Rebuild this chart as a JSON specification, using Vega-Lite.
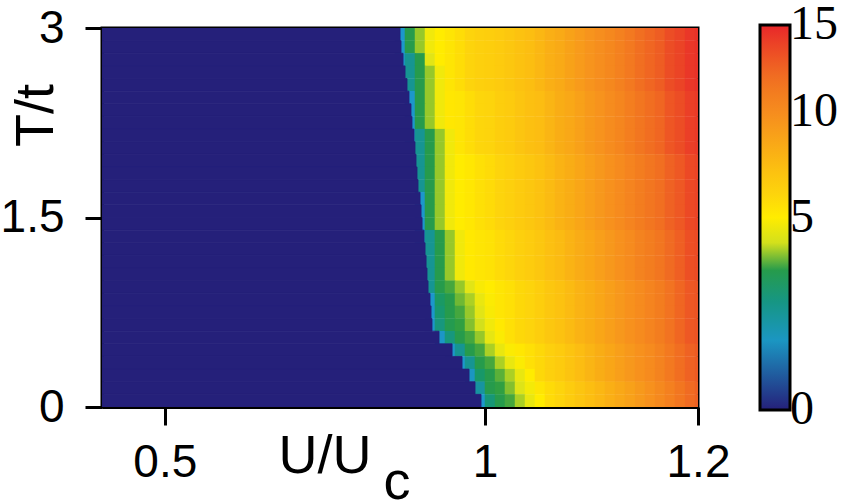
{
"$schema":"https://vega.github.io/schema/vega-lite/v6.json",
"width":596,"height":379,
"autosize":{"type":"none"},
"padding":{"left":102,"top":28,"right":145,"bottom":93},
"background":"white",
"config":{
"view":{"stroke":"black","strokeWidth":3},
"axis":{"grid":false,"domainColor":"black","domainWidth":3,"tickColor":"black","tickWidth":3,"labelColor":"black","titleColor":"black","labelFont":"Liberation Sans","titleFont":"Liberation Sans","labelFontSize":46,"titleFontSize":54,"titleFontWeight":"normal","zindex":1}
},
"datasets":{
"dark":[
{"u0":0.25,"u1":0.903,"t0":2.9,"t1":3,"v":0},{"u0":0.25,"u1":0.9042,"t0":2.8,"t1":2.9,"v":0},{"u0":0.25,"u1":0.9067,"t0":2.7,"t1":2.8,"v":0},{"u0":0.25,"u1":0.9091,"t0":2.6,"t1":2.7,"v":0},{"u0":0.25,"u1":0.9115,"t0":2.5,"t1":2.6,"v":0},{"u0":0.25,"u1":0.9139,"t0":2.4,"t1":2.5,"v":0},{"u0":0.25,"u1":0.9163,"t0":2.3,"t1":2.4,"v":0},{"u0":0.25,"u1":0.9175,"t0":2.2,"t1":2.3,"v":0},{"u0":0.25,"u1":0.9199,"t0":2.1,"t1":2.2,"v":0},{"u0":0.25,"u1":0.9211,"t0":2.0,"t1":2.1,"v":0},
{"u0":0.25,"u1":0.9223,"t0":1.9,"t1":2.0,"v":0},{"u0":0.25,"u1":0.9235,"t0":1.8,"t1":1.9,"v":0},{"u0":0.25,"u1":0.9247,"t0":1.7,"t1":1.8,"v":0},{"u0":0.25,"u1":0.9271,"t0":1.6,"t1":1.7,"v":0},{"u0":0.25,"u1":0.9283,"t0":1.5,"t1":1.6,"v":0},{"u0":0.25,"u1":0.9295,"t0":1.4,"t1":1.5,"v":0},{"u0":0.25,"u1":0.9318,"t0":1.3,"t1":1.4,"v":0},{"u0":0.25,"u1":0.933,"t0":1.2,"t1":1.3,"v":0},{"u0":0.25,"u1":0.9342,"t0":1.1,"t1":1.2,"v":0},{"u0":0.25,"u1":0.9353,"t0":1.0,"t1":1.1,"v":0},
{"u0":0.25,"u1":0.9365,"t0":0.9,"t1":1.0,"v":0},{"u0":0.25,"u1":0.9388,"t0":0.8,"t1":0.9,"v":0},{"u0":0.25,"u1":0.94,"t0":0.7,"t1":0.8,"v":0},{"u0":0.25,"u1":0.9411,"t0":0.6,"t1":0.7,"v":0},{"u0":0.25,"u1":0.9492,"t0":0.5,"t1":0.6,"v":0},{"u0":0.25,"u1":0.964,"t0":0.4,"t1":0.5,"v":0},{"u0":0.25,"u1":0.9751,"t0":0.3,"t1":0.4,"v":0},{"u0":0.25,"u1":0.9828,"t0":0.2,"t1":0.3,"v":0},{"u0":0.25,"u1":0.9893,"t0":0.1,"t1":0.2,"v":0},{"u0":0.25,"u1":0.9958,"t0":0,"t1":0.1,"v":0}
],
"cells":[
{"t":2.95,"u":0.903,"v":0.8},{"t":2.95,"u":0.9151,"v":3},{"t":2.95,"u":0.9271,"v":3.7},{"t":2.95,"u":0.9388,"v":4.6},{"t":2.95,"u":0.9503,"v":5},{"t":2.95,"u":0.9617,"v":5.3},{"t":2.95,"u":0.9729,"v":5.6},{"t":2.95,"u":0.9839,"v":6},{"t":2.95,"u":0.9947,"v":6.2},{"t":2.95,"u":1.0054,"v":6.3},{"t":2.95,"u":1.016,"v":6.5},{"t":2.95,"u":1.0263,"v":6.7},{"t":2.95,"u":1.0366,"v":7},{"t":2.95,"u":1.0467,"v":7.2},{"t":2.95,"u":1.0566,"v":7.6},{"t":2.95,"u":1.0665,"v":8},{"t":2.95,"u":1.0763,"v":8.3},{"t":2.95,"u":1.0859,"v":8.7},{"t":2.95,"u":1.0954,"v":9.1},{"t":2.95,"u":1.1048,"v":9.5},{"t":2.95,"u":1.1141,"v":9.9},{"t":2.95,"u":1.1233,"v":10.3},{"t":2.95,"u":1.1324,"v":10.7},{"t":2.95,"u":1.1413,"v":11.2},{"t":2.95,"u":1.1503,"v":11.8},{"t":2.95,"u":1.159,"v":12.3},{"t":2.95,"u":1.1678,"v":12.7},{"t":2.95,"u":1.1763,"v":13.4},{"t":2.95,"u":1.1848,"v":13.8},{"t":2.95,"u":1.1934,"v":14.3},{"t":2.95,"u":1.2017,"v":14.5},
{"t":2.85,"u":0.903,"v":0.8},{"t":2.85,"u":0.9151,"v":3},{"t":2.85,"u":0.9271,"v":3.7},{"t":2.85,"u":0.9388,"v":4.6},{"t":2.85,"u":0.9503,"v":5},{"t":2.85,"u":0.9617,"v":5.3},{"t":2.85,"u":0.9729,"v":5.6},{"t":2.85,"u":0.9839,"v":6},{"t":2.85,"u":0.9947,"v":6.2},{"t":2.85,"u":1.0054,"v":6.3},{"t":2.85,"u":1.016,"v":6.5},{"t":2.85,"u":1.0263,"v":6.7},{"t":2.85,"u":1.0366,"v":7},{"t":2.85,"u":1.0467,"v":7.2},{"t":2.85,"u":1.0566,"v":7.6},{"t":2.85,"u":1.0665,"v":8},{"t":2.85,"u":1.0763,"v":8.3},{"t":2.85,"u":1.0859,"v":8.7},{"t":2.85,"u":1.0954,"v":9.1},{"t":2.85,"u":1.1048,"v":9.5},{"t":2.85,"u":1.1141,"v":9.9},{"t":2.85,"u":1.1233,"v":10.3},{"t":2.85,"u":1.1324,"v":10.7},{"t":2.85,"u":1.1413,"v":11.2},{"t":2.85,"u":1.1503,"v":11.8},{"t":2.85,"u":1.159,"v":12.3},{"t":2.85,"u":1.1678,"v":12.7},{"t":2.85,"u":1.1763,"v":13.4},{"t":2.85,"u":1.1848,"v":13.8},{"t":2.85,"u":1.1934,"v":14.3},{"t":2.85,"u":1.2017,"v":14.5},
{"t":2.75,"u":0.903,"v":0.8},{"t":2.75,"u":0.9151,"v":1.8},{"t":2.75,"u":0.9271,"v":3},{"t":2.75,"u":0.9388,"v":4.2},{"t":2.75,"u":0.9503,"v":5},{"t":2.75,"u":0.9617,"v":5.3},{"t":2.75,"u":0.9729,"v":5.6},{"t":2.75,"u":0.9839,"v":6},{"t":2.75,"u":0.9947,"v":6.2},{"t":2.75,"u":1.0054,"v":6.3},{"t":2.75,"u":1.016,"v":6.5},{"t":2.75,"u":1.0263,"v":6.7},{"t":2.75,"u":1.0366,"v":7},{"t":2.75,"u":1.0467,"v":7.2},{"t":2.75,"u":1.0566,"v":7.6},{"t":2.75,"u":1.0665,"v":8},{"t":2.75,"u":1.0763,"v":8.3},{"t":2.75,"u":1.0859,"v":8.7},{"t":2.75,"u":1.0954,"v":9.1},{"t":2.75,"u":1.1048,"v":9.5},{"t":2.75,"u":1.1141,"v":9.9},{"t":2.75,"u":1.1233,"v":10.3},{"t":2.75,"u":1.1324,"v":10.7},{"t":2.75,"u":1.1413,"v":11.2},{"t":2.75,"u":1.1503,"v":11.8},{"t":2.75,"u":1.159,"v":12.3},{"t":2.75,"u":1.1678,"v":12.7},{"t":2.75,"u":1.1763,"v":13.4},{"t":2.75,"u":1.1848,"v":13.8},{"t":2.75,"u":1.1934,"v":14.3},{"t":2.75,"u":1.2017,"v":14.5},
{"t":2.65,"u":0.9151,"v":1.8},{"t":2.65,"u":0.9271,"v":3},{"t":2.65,"u":0.9388,"v":3.7},{"t":2.65,"u":0.9503,"v":4.6},{"t":2.65,"u":0.9617,"v":5.3},{"t":2.65,"u":0.9729,"v":5.6},{"t":2.65,"u":0.9839,"v":6},{"t":2.65,"u":0.9947,"v":6.2},{"t":2.65,"u":1.0054,"v":6.3},{"t":2.65,"u":1.016,"v":6.5},{"t":2.65,"u":1.0263,"v":6.7},{"t":2.65,"u":1.0366,"v":7},{"t":2.65,"u":1.0467,"v":7.2},{"t":2.65,"u":1.0566,"v":7.6},{"t":2.65,"u":1.0665,"v":8},{"t":2.65,"u":1.0763,"v":8.3},{"t":2.65,"u":1.0859,"v":8.7},{"t":2.65,"u":1.0954,"v":9.1},{"t":2.65,"u":1.1048,"v":9.5},{"t":2.65,"u":1.1141,"v":9.9},{"t":2.65,"u":1.1233,"v":10.3},{"t":2.65,"u":1.1324,"v":10.7},{"t":2.65,"u":1.1413,"v":11.2},{"t":2.65,"u":1.1503,"v":11.8},{"t":2.65,"u":1.159,"v":12.3},{"t":2.65,"u":1.1678,"v":12.7},{"t":2.65,"u":1.1763,"v":13.4},{"t":2.65,"u":1.1848,"v":13.8},{"t":2.65,"u":1.1934,"v":14.3},{"t":2.65,"u":1.2017,"v":14.5},
{"t":2.55,"u":0.9151,"v":1.8},{"t":2.55,"u":0.9271,"v":3},{"t":2.55,"u":0.9388,"v":3.7},{"t":2.55,"u":0.9503,"v":4.6},{"t":2.55,"u":0.9617,"v":5.3},{"t":2.55,"u":0.9729,"v":5.6},{"t":2.55,"u":0.9839,"v":6},{"t":2.55,"u":0.9947,"v":6.2},{"t":2.55,"u":1.0054,"v":6.3},{"t":2.55,"u":1.016,"v":6.5},{"t":2.55,"u":1.0263,"v":6.7},{"t":2.55,"u":1.0366,"v":7},{"t":2.55,"u":1.0467,"v":7.2},{"t":2.55,"u":1.0566,"v":7.6},{"t":2.55,"u":1.0665,"v":8},{"t":2.55,"u":1.0763,"v":8.3},{"t":2.55,"u":1.0859,"v":8.7},{"t":2.55,"u":1.0954,"v":9.1},{"t":2.55,"u":1.1048,"v":9.5},{"t":2.55,"u":1.1141,"v":9.9},{"t":2.55,"u":1.1233,"v":10.3},{"t":2.55,"u":1.1324,"v":10.7},{"t":2.55,"u":1.1413,"v":11.2},{"t":2.55,"u":1.1503,"v":11.8},{"t":2.55,"u":1.159,"v":12.3},{"t":2.55,"u":1.1678,"v":12.7},{"t":2.55,"u":1.1763,"v":13.4},{"t":2.55,"u":1.1848,"v":13.8},{"t":2.55,"u":1.1934,"v":14.3},{"t":2.55,"u":1.2017,"v":14.5},
{"t":2.45,"u":0.9151,"v":0.8},{"t":2.45,"u":0.9271,"v":3},{"t":2.45,"u":0.9388,"v":3.7},{"t":2.45,"u":0.9503,"v":4.6},{"t":2.45,"u":0.9617,"v":5.2},{"t":2.45,"u":0.9729,"v":5.3},{"t":2.45,"u":0.9839,"v":5.6},{"t":2.45,"u":0.9947,"v":5.9},{"t":2.45,"u":1.0054,"v":6},{"t":2.45,"u":1.016,"v":6.3},{"t":2.45,"u":1.0263,"v":6.5},{"t":2.45,"u":1.0366,"v":6.8},{"t":2.45,"u":1.0467,"v":7.1},{"t":2.45,"u":1.0566,"v":7.3},{"t":2.45,"u":1.0665,"v":7.7},{"t":2.45,"u":1.0763,"v":8.1},{"t":2.45,"u":1.0859,"v":8.4},{"t":2.45,"u":1.0954,"v":8.8},{"t":2.45,"u":1.1048,"v":9.2},{"t":2.45,"u":1.1141,"v":9.6},{"t":2.45,"u":1.1233,"v":10},{"t":2.45,"u":1.1324,"v":10.4},{"t":2.45,"u":1.1413,"v":10.9},{"t":2.45,"u":1.1503,"v":11.4},{"t":2.45,"u":1.159,"v":11.9},{"t":2.45,"u":1.1678,"v":12.3},{"t":2.45,"u":1.1763,"v":13},{"t":2.45,"u":1.1848,"v":13.4},{"t":2.45,"u":1.1934,"v":14},{"t":2.45,"u":1.2017,"v":14.2},
{"t":2.35,"u":0.9151,"v":0.8},{"t":2.35,"u":0.9271,"v":3},{"t":2.35,"u":0.9388,"v":3.7},{"t":2.35,"u":0.9503,"v":4.6},{"t":2.35,"u":0.9617,"v":5.2},{"t":2.35,"u":0.9729,"v":5.3},{"t":2.35,"u":0.9839,"v":5.6},{"t":2.35,"u":0.9947,"v":5.9},{"t":2.35,"u":1.0054,"v":6},{"t":2.35,"u":1.016,"v":6.3},{"t":2.35,"u":1.0263,"v":6.5},{"t":2.35,"u":1.0366,"v":6.8},{"t":2.35,"u":1.0467,"v":7.1},{"t":2.35,"u":1.0566,"v":7.3},{"t":2.35,"u":1.0665,"v":7.7},{"t":2.35,"u":1.0763,"v":8.1},{"t":2.35,"u":1.0859,"v":8.4},{"t":2.35,"u":1.0954,"v":8.8},{"t":2.35,"u":1.1048,"v":9.2},{"t":2.35,"u":1.1141,"v":9.6},{"t":2.35,"u":1.1233,"v":10},{"t":2.35,"u":1.1324,"v":10.4},{"t":2.35,"u":1.1413,"v":10.9},{"t":2.35,"u":1.1503,"v":11.4},{"t":2.35,"u":1.159,"v":11.9},{"t":2.35,"u":1.1678,"v":12.3},{"t":2.35,"u":1.1763,"v":13},{"t":2.35,"u":1.1848,"v":13.4},{"t":2.35,"u":1.1934,"v":14},{"t":2.35,"u":1.2017,"v":14.2},
{"t":2.25,"u":0.9151,"v":0.8},{"t":2.25,"u":0.9271,"v":3},{"t":2.25,"u":0.9388,"v":3.7},{"t":2.25,"u":0.9503,"v":4.6},{"t":2.25,"u":0.9617,"v":5.2},{"t":2.25,"u":0.9729,"v":5.3},{"t":2.25,"u":0.9839,"v":5.6},{"t":2.25,"u":0.9947,"v":5.9},{"t":2.25,"u":1.0054,"v":6},{"t":2.25,"u":1.016,"v":6.3},{"t":2.25,"u":1.0263,"v":6.5},{"t":2.25,"u":1.0366,"v":6.8},{"t":2.25,"u":1.0467,"v":7.1},{"t":2.25,"u":1.0566,"v":7.3},{"t":2.25,"u":1.0665,"v":7.7},{"t":2.25,"u":1.0763,"v":8.1},{"t":2.25,"u":1.0859,"v":8.4},{"t":2.25,"u":1.0954,"v":8.8},{"t":2.25,"u":1.1048,"v":9.2},{"t":2.25,"u":1.1141,"v":9.6},{"t":2.25,"u":1.1233,"v":10},{"t":2.25,"u":1.1324,"v":10.4},{"t":2.25,"u":1.1413,"v":10.9},{"t":2.25,"u":1.1503,"v":11.4},{"t":2.25,"u":1.159,"v":11.9},{"t":2.25,"u":1.1678,"v":12.3},{"t":2.25,"u":1.1763,"v":13},{"t":2.25,"u":1.1848,"v":13.4},{"t":2.25,"u":1.1934,"v":14},{"t":2.25,"u":1.2017,"v":14.2},
{"t":2.15,"u":0.9151,"v":0.8},{"t":2.15,"u":0.9271,"v":1.8},{"t":2.15,"u":0.9388,"v":3},{"t":2.15,"u":0.9503,"v":3.7},{"t":2.15,"u":0.9617,"v":4.6},{"t":2.15,"u":0.9729,"v":5.3},{"t":2.15,"u":0.9839,"v":5.6},{"t":2.15,"u":0.9947,"v":5.9},{"t":2.15,"u":1.0054,"v":6},{"t":2.15,"u":1.016,"v":6.3},{"t":2.15,"u":1.0263,"v":6.5},{"t":2.15,"u":1.0366,"v":6.8},{"t":2.15,"u":1.0467,"v":7.1},{"t":2.15,"u":1.0566,"v":7.3},{"t":2.15,"u":1.0665,"v":7.7},{"t":2.15,"u":1.0763,"v":8.1},{"t":2.15,"u":1.0859,"v":8.4},{"t":2.15,"u":1.0954,"v":8.8},{"t":2.15,"u":1.1048,"v":9.2},{"t":2.15,"u":1.1141,"v":9.6},{"t":2.15,"u":1.1233,"v":10},{"t":2.15,"u":1.1324,"v":10.4},{"t":2.15,"u":1.1413,"v":10.9},{"t":2.15,"u":1.1503,"v":11.4},{"t":2.15,"u":1.159,"v":11.9},{"t":2.15,"u":1.1678,"v":12.3},{"t":2.15,"u":1.1763,"v":13},{"t":2.15,"u":1.1848,"v":13.4},{"t":2.15,"u":1.1934,"v":14},{"t":2.15,"u":1.2017,"v":14.2},
{"t":2.05,"u":0.9271,"v":1.8},{"t":2.05,"u":0.9388,"v":3},{"t":2.05,"u":0.9503,"v":3.7},{"t":2.05,"u":0.9617,"v":4.6},{"t":2.05,"u":0.9729,"v":5.3},{"t":2.05,"u":0.9839,"v":5.6},{"t":2.05,"u":0.9947,"v":5.9},{"t":2.05,"u":1.0054,"v":6},{"t":2.05,"u":1.016,"v":6.3},{"t":2.05,"u":1.0263,"v":6.5},{"t":2.05,"u":1.0366,"v":6.8},{"t":2.05,"u":1.0467,"v":7.1},{"t":2.05,"u":1.0566,"v":7.3},{"t":2.05,"u":1.0665,"v":7.7},{"t":2.05,"u":1.0763,"v":8.1},{"t":2.05,"u":1.0859,"v":8.4},{"t":2.05,"u":1.0954,"v":8.8},{"t":2.05,"u":1.1048,"v":9.2},{"t":2.05,"u":1.1141,"v":9.6},{"t":2.05,"u":1.1233,"v":10},{"t":2.05,"u":1.1324,"v":10.4},{"t":2.05,"u":1.1413,"v":10.9},{"t":2.05,"u":1.1503,"v":11.4},{"t":2.05,"u":1.159,"v":11.9},{"t":2.05,"u":1.1678,"v":12.3},{"t":2.05,"u":1.1763,"v":13},{"t":2.05,"u":1.1848,"v":13.4},{"t":2.05,"u":1.1934,"v":14},{"t":2.05,"u":1.2017,"v":14.2},
{"t":1.95,"u":0.9271,"v":1.8},{"t":1.95,"u":0.9388,"v":3},{"t":1.95,"u":0.9503,"v":3.7},{"t":1.95,"u":0.9617,"v":4.6},{"t":1.95,"u":0.9729,"v":5},{"t":1.95,"u":0.9839,"v":5.2},{"t":1.95,"u":0.9947,"v":5.5},{"t":1.95,"u":1.0054,"v":5.7},{"t":1.95,"u":1.016,"v":6},{"t":1.95,"u":1.0263,"v":6.2},{"t":1.95,"u":1.0366,"v":6.5},{"t":1.95,"u":1.0467,"v":6.7},{"t":1.95,"u":1.0566,"v":7},{"t":1.95,"u":1.0665,"v":7.4},{"t":1.95,"u":1.0763,"v":7.8},{"t":1.95,"u":1.0859,"v":8.1},{"t":1.95,"u":1.0954,"v":8.5},{"t":1.95,"u":1.1048,"v":8.9},{"t":1.95,"u":1.1141,"v":9.3},{"t":1.95,"u":1.1233,"v":9.7},{"t":1.95,"u":1.1324,"v":10.1},{"t":1.95,"u":1.1413,"v":10.5},{"t":1.95,"u":1.1503,"v":11},{"t":1.95,"u":1.159,"v":11.4},{"t":1.95,"u":1.1678,"v":11.8},{"t":1.95,"u":1.1763,"v":12.5},{"t":1.95,"u":1.1848,"v":12.9},{"t":1.95,"u":1.1934,"v":13.6},{"t":1.95,"u":1.2017,"v":13.8},
{"t":1.85,"u":0.9271,"v":1.8},{"t":1.85,"u":0.9388,"v":3},{"t":1.85,"u":0.9503,"v":3.7},{"t":1.85,"u":0.9617,"v":4.6},{"t":1.85,"u":0.9729,"v":5},{"t":1.85,"u":0.9839,"v":5.2},{"t":1.85,"u":0.9947,"v":5.5},{"t":1.85,"u":1.0054,"v":5.7},{"t":1.85,"u":1.016,"v":6},{"t":1.85,"u":1.0263,"v":6.2},{"t":1.85,"u":1.0366,"v":6.5},{"t":1.85,"u":1.0467,"v":6.7},{"t":1.85,"u":1.0566,"v":7},{"t":1.85,"u":1.0665,"v":7.4},{"t":1.85,"u":1.0763,"v":7.8},{"t":1.85,"u":1.0859,"v":8.1},{"t":1.85,"u":1.0954,"v":8.5},{"t":1.85,"u":1.1048,"v":8.9},{"t":1.85,"u":1.1141,"v":9.3},{"t":1.85,"u":1.1233,"v":9.7},{"t":1.85,"u":1.1324,"v":10.1},{"t":1.85,"u":1.1413,"v":10.5},{"t":1.85,"u":1.1503,"v":11},{"t":1.85,"u":1.159,"v":11.4},{"t":1.85,"u":1.1678,"v":11.8},{"t":1.85,"u":1.1763,"v":12.5},{"t":1.85,"u":1.1848,"v":12.9},{"t":1.85,"u":1.1934,"v":13.6},{"t":1.85,"u":1.2017,"v":13.8},
{"t":1.75,"u":0.9271,"v":1.8},{"t":1.75,"u":0.9388,"v":3},{"t":1.75,"u":0.9503,"v":3.7},{"t":1.75,"u":0.9617,"v":4.6},{"t":1.75,"u":0.9729,"v":5},{"t":1.75,"u":0.9839,"v":5.2},{"t":1.75,"u":0.9947,"v":5.5},{"t":1.75,"u":1.0054,"v":5.7},{"t":1.75,"u":1.016,"v":6},{"t":1.75,"u":1.0263,"v":6.2},{"t":1.75,"u":1.0366,"v":6.5},{"t":1.75,"u":1.0467,"v":6.7},{"t":1.75,"u":1.0566,"v":7},{"t":1.75,"u":1.0665,"v":7.4},{"t":1.75,"u":1.0763,"v":7.8},{"t":1.75,"u":1.0859,"v":8.1},{"t":1.75,"u":1.0954,"v":8.5},{"t":1.75,"u":1.1048,"v":8.9},{"t":1.75,"u":1.1141,"v":9.3},{"t":1.75,"u":1.1233,"v":9.7},{"t":1.75,"u":1.1324,"v":10.1},{"t":1.75,"u":1.1413,"v":10.5},{"t":1.75,"u":1.1503,"v":11},{"t":1.75,"u":1.159,"v":11.4},{"t":1.75,"u":1.1678,"v":11.8},{"t":1.75,"u":1.1763,"v":12.5},{"t":1.75,"u":1.1848,"v":12.9},{"t":1.75,"u":1.1934,"v":13.6},{"t":1.75,"u":1.2017,"v":13.8},
{"t":1.65,"u":0.9271,"v":0.8},{"t":1.65,"u":0.9388,"v":3},{"t":1.65,"u":0.9503,"v":3.7},{"t":1.65,"u":0.9617,"v":4.6},{"t":1.65,"u":0.9729,"v":5},{"t":1.65,"u":0.9839,"v":5.2},{"t":1.65,"u":0.9947,"v":5.5},{"t":1.65,"u":1.0054,"v":5.7},{"t":1.65,"u":1.016,"v":6},{"t":1.65,"u":1.0263,"v":6.2},{"t":1.65,"u":1.0366,"v":6.5},{"t":1.65,"u":1.0467,"v":6.7},{"t":1.65,"u":1.0566,"v":7},{"t":1.65,"u":1.0665,"v":7.4},{"t":1.65,"u":1.0763,"v":7.8},{"t":1.65,"u":1.0859,"v":8.1},{"t":1.65,"u":1.0954,"v":8.5},{"t":1.65,"u":1.1048,"v":8.9},{"t":1.65,"u":1.1141,"v":9.3},{"t":1.65,"u":1.1233,"v":9.7},{"t":1.65,"u":1.1324,"v":10.1},{"t":1.65,"u":1.1413,"v":10.5},{"t":1.65,"u":1.1503,"v":11},{"t":1.65,"u":1.159,"v":11.4},{"t":1.65,"u":1.1678,"v":11.8},{"t":1.65,"u":1.1763,"v":12.5},{"t":1.65,"u":1.1848,"v":12.9},{"t":1.65,"u":1.1934,"v":13.6},{"t":1.65,"u":1.2017,"v":13.8},
{"t":1.55,"u":0.9271,"v":0.8},{"t":1.55,"u":0.9388,"v":3},{"t":1.55,"u":0.9503,"v":3.7},{"t":1.55,"u":0.9617,"v":4.6},{"t":1.55,"u":0.9729,"v":5},{"t":1.55,"u":0.9839,"v":5.2},{"t":1.55,"u":0.9947,"v":5.5},{"t":1.55,"u":1.0054,"v":5.7},{"t":1.55,"u":1.016,"v":6},{"t":1.55,"u":1.0263,"v":6.2},{"t":1.55,"u":1.0366,"v":6.5},{"t":1.55,"u":1.0467,"v":6.7},{"t":1.55,"u":1.0566,"v":7},{"t":1.55,"u":1.0665,"v":7.4},{"t":1.55,"u":1.0763,"v":7.8},{"t":1.55,"u":1.0859,"v":8.1},{"t":1.55,"u":1.0954,"v":8.5},{"t":1.55,"u":1.1048,"v":8.9},{"t":1.55,"u":1.1141,"v":9.3},{"t":1.55,"u":1.1233,"v":9.7},{"t":1.55,"u":1.1324,"v":10.1},{"t":1.55,"u":1.1413,"v":10.5},{"t":1.55,"u":1.1503,"v":11},{"t":1.55,"u":1.159,"v":11.4},{"t":1.55,"u":1.1678,"v":11.8},{"t":1.55,"u":1.1763,"v":12.5},{"t":1.55,"u":1.1848,"v":12.9},{"t":1.55,"u":1.1934,"v":13.6},{"t":1.55,"u":1.2017,"v":13.8},
{"t":1.45,"u":0.9271,"v":0.8},{"t":1.45,"u":0.9388,"v":3},{"t":1.45,"u":0.9503,"v":3.7},{"t":1.45,"u":0.9617,"v":4.6},{"t":1.45,"u":0.9729,"v":5},{"t":1.45,"u":0.9839,"v":5.2},{"t":1.45,"u":0.9947,"v":5.5},{"t":1.45,"u":1.0054,"v":5.7},{"t":1.45,"u":1.016,"v":6},{"t":1.45,"u":1.0263,"v":6.2},{"t":1.45,"u":1.0366,"v":6.5},{"t":1.45,"u":1.0467,"v":6.7},{"t":1.45,"u":1.0566,"v":7},{"t":1.45,"u":1.0665,"v":7.4},{"t":1.45,"u":1.0763,"v":7.8},{"t":1.45,"u":1.0859,"v":8.1},{"t":1.45,"u":1.0954,"v":8.5},{"t":1.45,"u":1.1048,"v":8.9},{"t":1.45,"u":1.1141,"v":9.3},{"t":1.45,"u":1.1233,"v":9.7},{"t":1.45,"u":1.1324,"v":10.1},{"t":1.45,"u":1.1413,"v":10.5},{"t":1.45,"u":1.1503,"v":11},{"t":1.45,"u":1.159,"v":11.4},{"t":1.45,"u":1.1678,"v":11.8},{"t":1.45,"u":1.1763,"v":12.5},{"t":1.45,"u":1.1848,"v":12.9},{"t":1.45,"u":1.1934,"v":13.6},{"t":1.45,"u":1.2017,"v":13.8},
{"t":1.35,"u":0.9271,"v":0.8},{"t":1.35,"u":0.9388,"v":1.8},{"t":1.35,"u":0.9503,"v":3},{"t":1.35,"u":0.9617,"v":3.7},{"t":1.35,"u":0.9729,"v":4.6},{"t":1.35,"u":0.9839,"v":5.1},{"t":1.35,"u":0.9947,"v":5.3},{"t":1.35,"u":1.0054,"v":5.4},{"t":1.35,"u":1.016,"v":5.7},{"t":1.35,"u":1.0263,"v":5.9},{"t":1.35,"u":1.0366,"v":6.2},{"t":1.35,"u":1.0467,"v":6.4},{"t":1.35,"u":1.0566,"v":6.7},{"t":1.35,"u":1.0665,"v":7.1},{"t":1.35,"u":1.0763,"v":7.4},{"t":1.35,"u":1.0859,"v":7.8},{"t":1.35,"u":1.0954,"v":8.2},{"t":1.35,"u":1.1048,"v":8.5},{"t":1.35,"u":1.1141,"v":8.9},{"t":1.35,"u":1.1233,"v":9.3},{"t":1.35,"u":1.1324,"v":9.7},{"t":1.35,"u":1.1413,"v":10.1},{"t":1.35,"u":1.1503,"v":10.6},{"t":1.35,"u":1.159,"v":11},{"t":1.35,"u":1.1678,"v":11.4},{"t":1.35,"u":1.1763,"v":12.1},{"t":1.35,"u":1.1848,"v":12.6},{"t":1.35,"u":1.1934,"v":13.3},{"t":1.35,"u":1.2017,"v":13.5},
{"t":1.25,"u":0.9388,"v":1.8},{"t":1.25,"u":0.9503,"v":3},{"t":1.25,"u":0.9617,"v":3.7},{"t":1.25,"u":0.9729,"v":4.6},{"t":1.25,"u":0.9839,"v":5.1},{"t":1.25,"u":0.9947,"v":5.3},{"t":1.25,"u":1.0054,"v":5.4},{"t":1.25,"u":1.016,"v":5.7},{"t":1.25,"u":1.0263,"v":5.9},{"t":1.25,"u":1.0366,"v":6.2},{"t":1.25,"u":1.0467,"v":6.4},{"t":1.25,"u":1.0566,"v":6.7},{"t":1.25,"u":1.0665,"v":7.1},{"t":1.25,"u":1.0763,"v":7.4},{"t":1.25,"u":1.0859,"v":7.8},{"t":1.25,"u":1.0954,"v":8.2},{"t":1.25,"u":1.1048,"v":8.5},{"t":1.25,"u":1.1141,"v":8.9},{"t":1.25,"u":1.1233,"v":9.3},{"t":1.25,"u":1.1324,"v":9.7},{"t":1.25,"u":1.1413,"v":10.1},{"t":1.25,"u":1.1503,"v":10.6},{"t":1.25,"u":1.159,"v":11},{"t":1.25,"u":1.1678,"v":11.4},{"t":1.25,"u":1.1763,"v":12.1},{"t":1.25,"u":1.1848,"v":12.6},{"t":1.25,"u":1.1934,"v":13.3},{"t":1.25,"u":1.2017,"v":13.5},
{"t":1.15,"u":0.9388,"v":1.8},{"t":1.15,"u":0.9503,"v":3},{"t":1.15,"u":0.9617,"v":3.7},{"t":1.15,"u":0.9729,"v":4.6},{"t":1.15,"u":0.9839,"v":5.1},{"t":1.15,"u":0.9947,"v":5.3},{"t":1.15,"u":1.0054,"v":5.4},{"t":1.15,"u":1.016,"v":5.7},{"t":1.15,"u":1.0263,"v":5.9},{"t":1.15,"u":1.0366,"v":6.2},{"t":1.15,"u":1.0467,"v":6.4},{"t":1.15,"u":1.0566,"v":6.7},{"t":1.15,"u":1.0665,"v":7.1},{"t":1.15,"u":1.0763,"v":7.4},{"t":1.15,"u":1.0859,"v":7.8},{"t":1.15,"u":1.0954,"v":8.2},{"t":1.15,"u":1.1048,"v":8.5},{"t":1.15,"u":1.1141,"v":8.9},{"t":1.15,"u":1.1233,"v":9.3},{"t":1.15,"u":1.1324,"v":9.7},{"t":1.15,"u":1.1413,"v":10.1},{"t":1.15,"u":1.1503,"v":10.6},{"t":1.15,"u":1.159,"v":11},{"t":1.15,"u":1.1678,"v":11.4},{"t":1.15,"u":1.1763,"v":12.1},{"t":1.15,"u":1.1848,"v":12.6},{"t":1.15,"u":1.1934,"v":13.3},{"t":1.15,"u":1.2017,"v":13.5},
{"t":1.05,"u":0.9388,"v":1.8},{"t":1.05,"u":0.9503,"v":3},{"t":1.05,"u":0.9617,"v":3.7},{"t":1.05,"u":0.9729,"v":4.6},{"t":1.05,"u":0.9839,"v":5.1},{"t":1.05,"u":0.9947,"v":5.3},{"t":1.05,"u":1.0054,"v":5.4},{"t":1.05,"u":1.016,"v":5.7},{"t":1.05,"u":1.0263,"v":5.9},{"t":1.05,"u":1.0366,"v":6.2},{"t":1.05,"u":1.0467,"v":6.4},{"t":1.05,"u":1.0566,"v":6.7},{"t":1.05,"u":1.0665,"v":7.1},{"t":1.05,"u":1.0763,"v":7.4},{"t":1.05,"u":1.0859,"v":7.8},{"t":1.05,"u":1.0954,"v":8.2},{"t":1.05,"u":1.1048,"v":8.5},{"t":1.05,"u":1.1141,"v":8.9},{"t":1.05,"u":1.1233,"v":9.3},{"t":1.05,"u":1.1324,"v":9.7},{"t":1.05,"u":1.1413,"v":10.1},{"t":1.05,"u":1.1503,"v":10.6},{"t":1.05,"u":1.159,"v":11},{"t":1.05,"u":1.1678,"v":11.4},{"t":1.05,"u":1.1763,"v":12.1},{"t":1.05,"u":1.1848,"v":12.6},{"t":1.05,"u":1.1934,"v":13.3},{"t":1.05,"u":1.2017,"v":13.5},
{"t":0.95,"u":0.9388,"v":1.8},{"t":0.95,"u":0.9503,"v":3},{"t":0.95,"u":0.9617,"v":3.3},{"t":0.95,"u":0.9729,"v":3.7},{"t":0.95,"u":0.9839,"v":4.2},{"t":0.95,"u":0.9947,"v":4.8},{"t":0.95,"u":1.0054,"v":5},{"t":0.95,"u":1.016,"v":5.3},{"t":0.95,"u":1.0263,"v":5.5},{"t":0.95,"u":1.0366,"v":5.8},{"t":0.95,"u":1.0467,"v":6},{"t":0.95,"u":1.0566,"v":6.3},{"t":0.95,"u":1.0665,"v":6.7},{"t":0.95,"u":1.0763,"v":7},{"t":0.95,"u":1.0859,"v":7.4},{"t":0.95,"u":1.0954,"v":7.8},{"t":0.95,"u":1.1048,"v":8.1},{"t":0.95,"u":1.1141,"v":8.5},{"t":0.95,"u":1.1233,"v":8.9},{"t":0.95,"u":1.1324,"v":9.3},{"t":0.95,"u":1.1413,"v":9.7},{"t":0.95,"u":1.1503,"v":10.1},{"t":0.95,"u":1.159,"v":10.5},{"t":0.95,"u":1.1678,"v":11},{"t":0.95,"u":1.1763,"v":11.6},{"t":0.95,"u":1.1848,"v":12.3},{"t":0.95,"u":1.1934,"v":12.9},{"t":0.95,"u":1.2017,"v":13.1},
{"t":0.85,"u":0.9388,"v":0.8},{"t":0.85,"u":0.9503,"v":2.5},{"t":0.85,"u":0.9617,"v":3},{"t":0.85,"u":0.9729,"v":3.5},{"t":0.85,"u":0.9839,"v":3.8},{"t":0.85,"u":0.9947,"v":4.4},{"t":0.85,"u":1.0054,"v":4.9},{"t":0.85,"u":1.016,"v":5.3},{"t":0.85,"u":1.0263,"v":5.5},{"t":0.85,"u":1.0366,"v":5.8},{"t":0.85,"u":1.0467,"v":6},{"t":0.85,"u":1.0566,"v":6.3},{"t":0.85,"u":1.0665,"v":6.7},{"t":0.85,"u":1.0763,"v":7},{"t":0.85,"u":1.0859,"v":7.4},{"t":0.85,"u":1.0954,"v":7.8},{"t":0.85,"u":1.1048,"v":8.1},{"t":0.85,"u":1.1141,"v":8.5},{"t":0.85,"u":1.1233,"v":8.9},{"t":0.85,"u":1.1324,"v":9.3},{"t":0.85,"u":1.1413,"v":9.7},{"t":0.85,"u":1.1503,"v":10.1},{"t":0.85,"u":1.159,"v":10.5},{"t":0.85,"u":1.1678,"v":11},{"t":0.85,"u":1.1763,"v":11.6},{"t":0.85,"u":1.1848,"v":12.3},{"t":0.85,"u":1.1934,"v":12.9},{"t":0.85,"u":1.2017,"v":13.1},
{"t":0.75,"u":0.9388,"v":0.8},{"t":0.75,"u":0.9503,"v":2.3},{"t":0.75,"u":0.9617,"v":3},{"t":0.75,"u":0.9729,"v":3.3},{"t":0.75,"u":0.9839,"v":3.7},{"t":0.75,"u":0.9947,"v":4.2},{"t":0.75,"u":1.0054,"v":4.8},{"t":0.75,"u":1.016,"v":5.3},{"t":0.75,"u":1.0263,"v":5.5},{"t":0.75,"u":1.0366,"v":5.8},{"t":0.75,"u":1.0467,"v":6},{"t":0.75,"u":1.0566,"v":6.3},{"t":0.75,"u":1.0665,"v":6.7},{"t":0.75,"u":1.0763,"v":7},{"t":0.75,"u":1.0859,"v":7.4},{"t":0.75,"u":1.0954,"v":7.8},{"t":0.75,"u":1.1048,"v":8.1},{"t":0.75,"u":1.1141,"v":8.5},{"t":0.75,"u":1.1233,"v":8.9},{"t":0.75,"u":1.1324,"v":9.3},{"t":0.75,"u":1.1413,"v":9.7},{"t":0.75,"u":1.1503,"v":10.1},{"t":0.75,"u":1.159,"v":10.5},{"t":0.75,"u":1.1678,"v":11},{"t":0.75,"u":1.1763,"v":11.6},{"t":0.75,"u":1.1848,"v":12.3},{"t":0.75,"u":1.1934,"v":12.9},{"t":0.75,"u":1.2017,"v":13.1},
{"t":0.65,"u":0.9388,"v":0.8},{"t":0.65,"u":0.9503,"v":2.1},{"t":0.65,"u":0.9617,"v":2.9},{"t":0.65,"u":0.9729,"v":3.2},{"t":0.65,"u":0.9839,"v":3.6},{"t":0.65,"u":0.9947,"v":4},{"t":0.65,"u":1.0054,"v":4.6},{"t":0.65,"u":1.016,"v":5.1},{"t":0.65,"u":1.0263,"v":5.5},{"t":0.65,"u":1.0366,"v":5.8},{"t":0.65,"u":1.0467,"v":6},{"t":0.65,"u":1.0566,"v":6.3},{"t":0.65,"u":1.0665,"v":6.7},{"t":0.65,"u":1.0763,"v":7},{"t":0.65,"u":1.0859,"v":7.4},{"t":0.65,"u":1.0954,"v":7.8},{"t":0.65,"u":1.1048,"v":8.1},{"t":0.65,"u":1.1141,"v":8.5},{"t":0.65,"u":1.1233,"v":8.9},{"t":0.65,"u":1.1324,"v":9.3},{"t":0.65,"u":1.1413,"v":9.7},{"t":0.65,"u":1.1503,"v":10.1},{"t":0.65,"u":1.159,"v":10.5},{"t":0.65,"u":1.1678,"v":11},{"t":0.65,"u":1.1763,"v":11.6},{"t":0.65,"u":1.1848,"v":12.3},{"t":0.65,"u":1.1934,"v":12.9},{"t":0.65,"u":1.2017,"v":13.1},
{"t":0.55,"u":0.9503,"v":0.9},{"t":0.55,"u":0.9617,"v":2.1},{"t":0.55,"u":0.9729,"v":3},{"t":0.55,"u":0.9839,"v":3.3},{"t":0.55,"u":0.9947,"v":3.7},{"t":0.55,"u":1.0054,"v":4.3},{"t":0.55,"u":1.016,"v":4.9},{"t":0.55,"u":1.0263,"v":5.5},{"t":0.55,"u":1.0366,"v":5.8},{"t":0.55,"u":1.0467,"v":6},{"t":0.55,"u":1.0566,"v":6.3},{"t":0.55,"u":1.0665,"v":6.7},{"t":0.55,"u":1.0763,"v":7},{"t":0.55,"u":1.0859,"v":7.4},{"t":0.55,"u":1.0954,"v":7.8},{"t":0.55,"u":1.1048,"v":8.1},{"t":0.55,"u":1.1141,"v":8.5},{"t":0.55,"u":1.1233,"v":8.9},{"t":0.55,"u":1.1324,"v":9.3},{"t":0.55,"u":1.1413,"v":9.7},{"t":0.55,"u":1.1503,"v":10.1},{"t":0.55,"u":1.159,"v":10.5},{"t":0.55,"u":1.1678,"v":11},{"t":0.55,"u":1.1763,"v":11.6},{"t":0.55,"u":1.1848,"v":12.3},{"t":0.55,"u":1.1934,"v":12.9},{"t":0.55,"u":1.2017,"v":13.1},
{"t":0.45,"u":0.9617,"v":0.8},{"t":0.45,"u":0.9729,"v":1.8},{"t":0.45,"u":0.9839,"v":3},{"t":0.45,"u":0.9947,"v":3.3},{"t":0.45,"u":1.0054,"v":3.8},{"t":0.45,"u":1.016,"v":4.4},{"t":0.45,"u":1.0263,"v":4.9},{"t":0.45,"u":1.0366,"v":5.2},{"t":0.45,"u":1.0467,"v":5.5},{"t":0.45,"u":1.0566,"v":5.8},{"t":0.45,"u":1.0665,"v":6.2},{"t":0.45,"u":1.0763,"v":6.5},{"t":0.45,"u":1.0859,"v":6.9},{"t":0.45,"u":1.0954,"v":7.3},{"t":0.45,"u":1.1048,"v":7.7},{"t":0.45,"u":1.1141,"v":8.1},{"t":0.45,"u":1.1233,"v":8.5},{"t":0.45,"u":1.1324,"v":8.9},{"t":0.45,"u":1.1413,"v":9.3},{"t":0.45,"u":1.1503,"v":9.7},{"t":0.45,"u":1.159,"v":10.1},{"t":0.45,"u":1.1678,"v":10.6},{"t":0.45,"u":1.1763,"v":11.2},{"t":0.45,"u":1.1848,"v":11.9},{"t":0.45,"u":1.1934,"v":12.5},{"t":0.45,"u":1.2017,"v":12.8},
{"t":0.35,"u":0.9729,"v":0.8},{"t":0.35,"u":0.9839,"v":1.8},{"t":0.35,"u":0.9947,"v":3},{"t":0.35,"u":1.0054,"v":3.3},{"t":0.35,"u":1.016,"v":3.8},{"t":0.35,"u":1.0263,"v":4.4},{"t":0.35,"u":1.0366,"v":4.9},{"t":0.35,"u":1.0467,"v":5.5},{"t":0.35,"u":1.0566,"v":5.8},{"t":0.35,"u":1.0665,"v":6.2},{"t":0.35,"u":1.0763,"v":6.5},{"t":0.35,"u":1.0859,"v":6.9},{"t":0.35,"u":1.0954,"v":7.3},{"t":0.35,"u":1.1048,"v":7.7},{"t":0.35,"u":1.1141,"v":8.1},{"t":0.35,"u":1.1233,"v":8.5},{"t":0.35,"u":1.1324,"v":8.9},{"t":0.35,"u":1.1413,"v":9.3},{"t":0.35,"u":1.1503,"v":9.7},{"t":0.35,"u":1.159,"v":10.1},{"t":0.35,"u":1.1678,"v":10.6},{"t":0.35,"u":1.1763,"v":11.2},{"t":0.35,"u":1.1848,"v":11.9},{"t":0.35,"u":1.1934,"v":12.5},{"t":0.35,"u":1.2017,"v":12.8},
{"t":0.25,"u":0.9839,"v":1},{"t":0.25,"u":0.9947,"v":2.4},{"t":0.25,"u":1.0054,"v":3},{"t":0.25,"u":1.016,"v":3.4},{"t":0.25,"u":1.0263,"v":3.8},{"t":0.25,"u":1.0366,"v":4.4},{"t":0.25,"u":1.0467,"v":5},{"t":0.25,"u":1.0566,"v":5.8},{"t":0.25,"u":1.0665,"v":6.2},{"t":0.25,"u":1.0763,"v":6.5},{"t":0.25,"u":1.0859,"v":6.9},{"t":0.25,"u":1.0954,"v":7.3},{"t":0.25,"u":1.1048,"v":7.7},{"t":0.25,"u":1.1141,"v":8.1},{"t":0.25,"u":1.1233,"v":8.5},{"t":0.25,"u":1.1324,"v":8.9},{"t":0.25,"u":1.1413,"v":9.3},{"t":0.25,"u":1.1503,"v":9.7},{"t":0.25,"u":1.159,"v":10.1},{"t":0.25,"u":1.1678,"v":10.6},{"t":0.25,"u":1.1763,"v":11.2},{"t":0.25,"u":1.1848,"v":11.9},{"t":0.25,"u":1.1934,"v":12.5},{"t":0.25,"u":1.2017,"v":12.8},
{"t":0.15,"u":0.9947,"v":1.6},{"t":0.15,"u":1.0054,"v":3},{"t":0.15,"u":1.016,"v":3.2},{"t":0.15,"u":1.0263,"v":3.6},{"t":0.15,"u":1.0366,"v":4.1},{"t":0.15,"u":1.0467,"v":4.7},{"t":0.15,"u":1.0566,"v":5.3},{"t":0.15,"u":1.0665,"v":5.7},{"t":0.15,"u":1.0763,"v":6},{"t":0.15,"u":1.0859,"v":6.4},{"t":0.15,"u":1.0954,"v":6.8},{"t":0.15,"u":1.1048,"v":7.2},{"t":0.15,"u":1.1141,"v":7.6},{"t":0.15,"u":1.1233,"v":8},{"t":0.15,"u":1.1324,"v":8.4},{"t":0.15,"u":1.1413,"v":8.8},{"t":0.15,"u":1.1503,"v":9.2},{"t":0.15,"u":1.159,"v":9.7},{"t":0.15,"u":1.1678,"v":10.2},{"t":0.15,"u":1.1763,"v":10.8},{"t":0.15,"u":1.1848,"v":11.4},{"t":0.15,"u":1.1934,"v":12.1},{"t":0.15,"u":1.2017,"v":12.5},
{"t":0.05,"u":0.9947,"v":0.8},{"t":0.05,"u":1.0054,"v":2.2},{"t":0.05,"u":1.016,"v":3},{"t":0.05,"u":1.0263,"v":3.3},{"t":0.05,"u":1.0366,"v":3.8},{"t":0.05,"u":1.0467,"v":4.4},{"t":0.05,"u":1.0566,"v":5},{"t":0.05,"u":1.0665,"v":5.7},{"t":0.05,"u":1.0763,"v":6},{"t":0.05,"u":1.0859,"v":6.4},{"t":0.05,"u":1.0954,"v":6.8},{"t":0.05,"u":1.1048,"v":7.2},{"t":0.05,"u":1.1141,"v":7.6},{"t":0.05,"u":1.1233,"v":8},{"t":0.05,"u":1.1324,"v":8.4},{"t":0.05,"u":1.1413,"v":8.8},{"t":0.05,"u":1.1503,"v":9.2},{"t":0.05,"u":1.159,"v":9.7},{"t":0.05,"u":1.1678,"v":10.2},{"t":0.05,"u":1.1763,"v":10.8},{"t":0.05,"u":1.1848,"v":11.4},{"t":0.05,"u":1.1934,"v":12.1},{"t":0.05,"u":1.2017,"v":12.5}
]
},
"layer":[
{
"data":{"name":"cells"},
"mark":{"type":"rect","width":10.6,"height":13,"clip":true},
"encoding":{
"x":{"field":"u","type":"quantitative","scale":{"type":"pow","exponent":2.35,"domain":[0.25,1.2],"nice":false,"zero":false},
"axis":{"values":[0.5,1,1.2],"format":".2~g","tickSize":18,"labelPadding":15,"labelFlush":false,"title":["U/U","\u200b\u00a0\u00a0\u00a0\u00a0\u00a0\u00a0\u00a0c"],"titleX":176,"titleY":65,"titleAlign":"left","titleAnchor":"start","titleBaseline":"alphabetic","titleLineHeight":26}},
"y":{"field":"t","type":"quantitative","scale":{"domain":[0,3],"nice":false,"zero":false},
"axis":{"values":[0,1.5,3],"format":".2~g","tickSize":17,"labelPadding":21,"labelFlush":false,"title":"T/t","titleX":-50,"titleY":87,"titleAngle":-90,"titleAlign":"center","titleBaseline":"alphabetic"}},
"color":{"field":"v","type":"quantitative",
"scale":{"type":"pow","exponent":0.631,
"domain":[0,0.185,0.555,1.057,1.667,2.374,3.17,4.047,5,6.026,7.122,8.283,9.507,10.794,12.14,13.542,15],
"range":["#25207a","#1f4fa8","#1e9ad8","#1b95c0","#16949c","#17986a","#2a9c44","#dce41a","#ffec00","#fdd30c","#fcc011","#f9aa16","#f7941d","#f4801f","#f06a22","#ec4a25","#e8262a"],
"interpolate":"rgb"},
"legend":{"type":"gradient","orient":"none","legendX":658,"legendY":-3,"direction":"vertical","gradientLength":385,"gradientThickness":30,"gradientStrokeColor":"black","gradientStrokeWidth":3,"values":[0,5,10,15],"labelFont":"Liberation Serif","labelFontSize":48,"labelColor":"black","labelOffset":0,"labelFlush":false,"labelOverlap":false,"title":null,"padding":0,
"encode":{"labels":{"update":{"baseline":{"value":"middle"}}}}}}
}
},
{
"data":{"name":"dark"},
"mark":{"type":"rect","clip":true,"stroke":"#25207a","strokeWidth":0.8},
"encoding":{
"x":{"field":"u0","type":"quantitative",
"axis":{"values":[0.5,1,1.2],"format":".2~g","tickSize":18,"labelPadding":15,"labelFlush":false,"title":["U/U","\u200b\u00a0\u00a0\u00a0\u00a0\u00a0\u00a0\u00a0c"],"titleX":176,"titleY":65,"titleAlign":"left","titleAnchor":"start","titleBaseline":"alphabetic","titleLineHeight":26}},
"x2":{"field":"u1"},
"y":{"field":"t0","type":"quantitative",
"axis":{"values":[0,1.5,3],"format":".2~g","tickSize":17,"labelPadding":21,"labelFlush":false,"title":"T/t","titleX":-50,"titleY":87,"titleAngle":-90,"titleAlign":"center","titleBaseline":"alphabetic"}},
"y2":{"field":"t1"},
"color":{"field":"v","type":"quantitative","legend":null}
}
}
]
}
